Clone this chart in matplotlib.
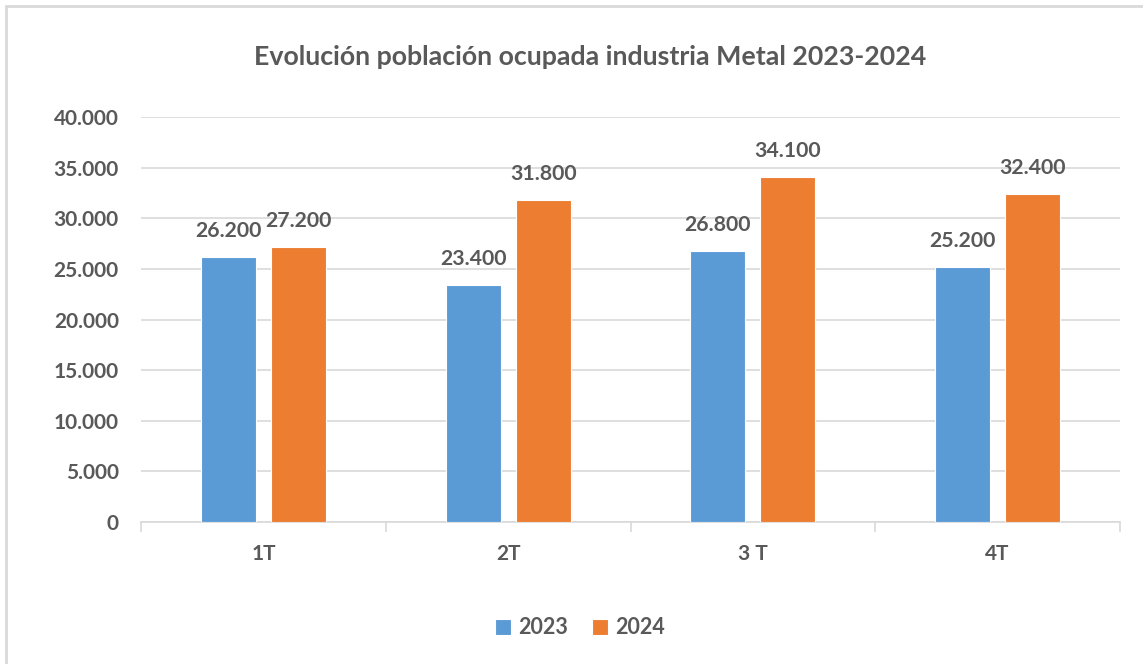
import matplotlib
matplotlib.use("Agg")
import matplotlib.pyplot as plt
from matplotlib.patches import Rectangle
import numpy as np

categories = ["1T", "2T", "3 T", "4T"]
series_names = ["2023", "2024"]
values_2023 = [26200, 23400, 26800, 25200]
values_2024 = [27200, 31800, 34100, 32400]
yticks = [0, 5000, 10000, 15000, 20000, 25000, 30000, 35000, 40000]
title = "Evolución población ocupada industria Metal 2023-2024"

blue = "#5B9BD5"
orange = "#ED7D31"
txt = "#595959"
grid = "#D9D9D9"

plt.rcParams['font.family'] = ['Lato', 'DejaVu Sans']

fig = plt.figure(figsize=(11.43, 6.64), dpi=100)
ax = fig.add_axes([141/1143, 1-522/664, (1120-141)/1143, (522-117)/664])

x = np.arange(len(categories))
w = 0.225
off = 0.143
b1 = ax.bar(x - off, values_2023, w, color=blue, edgecolor="white", linewidth=0.8, label=series_names[0], zorder=3)
b2 = ax.bar(x + off, values_2024, w, color=orange, edgecolor="white", linewidth=0.8, label=series_names[1], zorder=3)

def fmt(v):
    return f"{v:,.0f}".replace(",", ".")

for bars, vals in ((b1, values_2023), (b2, values_2024)):
    for rect, v in zip(bars, vals):
        ax.annotate(fmt(v), (rect.get_x() + rect.get_width()/2, v),
                    xytext=(0, 18.5), textcoords="offset points",
                    ha="center", va="center", fontsize=15.3, fontweight="bold",
                    color=txt, zorder=4)

ax.set_xlim(-0.5, len(categories) - 0.5)
ax.set_ylim(0, 40000)
ax.set_yticks(yticks)
ax.set_yticklabels([fmt(t) for t in yticks], fontsize=15, fontweight="bold", color=txt)
ax.yaxis.grid(True, color=grid, linewidth=1.2, zorder=0)
ax.set_axisbelow(True)
ax.tick_params(axis="y", length=0, pad=16)

ax.set_xticks(x)
ax.set_xticklabels(categories, fontsize=15, fontweight="bold", color=txt)
ax.set_xticks(np.arange(len(categories) + 1) - 0.5, minor=True)
ax.tick_params(axis="x", which="major", length=0, pad=16)
ax.tick_params(axis="x", which="minor", length=7, color=grid, width=1.2)

for s in ("top", "right", "left"):
    ax.spines[s].set_visible(False)
ax.spines["bottom"].set_color(grid)
ax.spines["bottom"].set_linewidth(1.2)

fig.text(590/1143, 1-57/664, title, ha="center", va="center", fontsize=19.3,
         fontweight="bold", color=txt)

leg = fig.legend(handles=[b1, b2], labels=series_names, loc="center",
                 bbox_to_anchor=(580/1143, 1-628/664), ncol=2, frameon=False,
                 prop={"size": 15.5, "weight": "bold"}, handlelength=0.75,
                 handleheight=0.75, columnspacing=1.1, handletextpad=0.35)
for t in leg.get_texts():
    t.set_color(txt)

fig.patches.append(Rectangle((6/1143, -0.05), 1.1, 1.05 - 6/664, transform=fig.transFigure,
                             fill=False, edgecolor="#D9D9D9", linewidth=2, figure=fig))

fig.savefig("out.png", dpi=100)
